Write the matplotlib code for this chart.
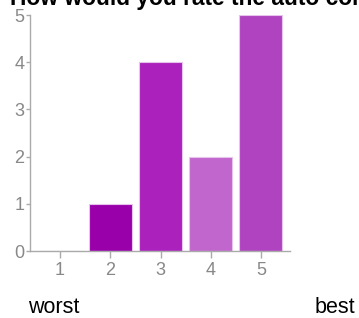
import matplotlib
matplotlib.use('Agg')
import matplotlib.pyplot as plt

plt.rcParams['font.family'] = ['Liberation Sans', 'DejaVu Sans']

# data
ratings = [1, 2, 3, 4, 5]
counts = [0, 1, 4, 2, 5]
bar_colors = ['#9900aa', '#9900aa', '#aa22bb', '#c066cc', '#b044c0']
title = 'How would you rate the auto correct feature?'

fig = plt.figure(figsize=(3.59, 3.18), dpi=100)
ax = fig.add_axes([30/359, (318-251)/318, 260/359, 236/318])

ax.bar(ratings, counts, width=0.86, color=bar_colors,
       edgecolor='#e6c3ea', linewidth=0.8, zorder=1)

ax.set_xlim(0.40, 5.58)
ax.set_ylim(0, 5)
ax.set_xticks(ratings)
ax.set_yticks(range(0, 6))

for s in ['top', 'right']:
    ax.spines[s].set_visible(False)
for s in ['left', 'bottom']:
    ax.spines[s].set_color('#aaaaaa')
    ax.spines[s].set_linewidth(1.0)

ax.tick_params(axis='x', colors='#aaaaaa', labelcolor='#888888',
               length=5, width=1, labelsize=13, pad=3)
ax.tick_params(axis='y', colors='#aaaaaa', labelcolor='#888888',
               length=3, width=1, labelsize=13, pad=1)

# title runs off the top/right edge as in the reference
fig.text(10/359, 313/318, title, fontsize=16.4, fontweight='bold',
         ha='left', va='baseline', color='black')
fig.text(28/359, 5/318, 'worst', fontsize=15.5, ha='left', va='baseline')
fig.text(355/359, 5/318, 'best', fontsize=15.5, ha='right', va='baseline')

fig.savefig('out.png', dpi=100)
